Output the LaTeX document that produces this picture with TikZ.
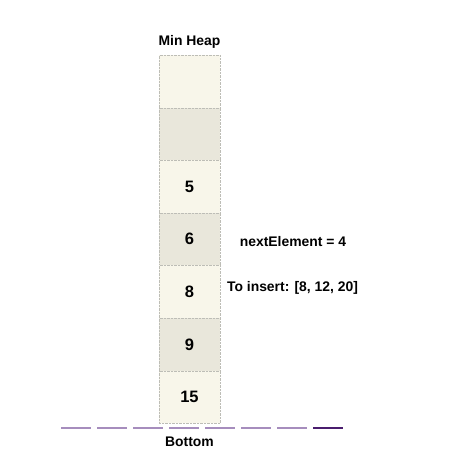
\documentclass[tikz,border=0pt]{standalone}
\usepackage{fontspec}
\setmainfont{Liberation Sans}
\usetikzlibrary{positioning}
\definecolor{slotlight}{HTML}{F8F6EA}
\definecolor{slotdark}{HTML}{E9E7DB}
\definecolor{slotedge}{HTML}{BDBDB6}
\definecolor{floorpale}{HTML}{A68DBD}
\definecolor{floordeep}{HTML}{4A1D6E}

\begin{document}
\begin{tikzpicture}[x=1pt,y=-1pt,
    slot/.style={rectangle,draw=slotedge,densely dotted,minimum width=61pt,minimum height=52.6pt,
                 inner sep=0pt,font=\fontsize{16.5}{20}\selectfont\bfseries},
    caption/.style={anchor=base,inner sep=0pt,font=\fontsize{13.9}{17}\selectfont\bfseries},
    floor/.style={line width=2.8pt}
]
\useasboundingbox (0,0) rectangle (455,456);

\node[caption] (title) at (189.5,45) {Min Heap};

\node[slot,fill=slotlight] (s1) at (189.5,81.5)  {};
\node[slot,fill=slotdark]  (s2) at (189.5,134)   {};
\node[slot,fill=slotlight] (s3) at (189.5,186.5) {5};
\node[slot,fill=slotdark]  (s4) at (189.5,239)   {6};
\node[slot,fill=slotlight] (s5) at (189.5,291.5) {8};
\node[slot,fill=slotdark]  (s6) at (189.5,344.5) {9};
\node[slot,fill=slotlight] (s7) at (189.5,397)   {15};

\node[caption] (next)   at (293,246) {nextElement = 4};
\node[caption] (insert) at (292.5,291) {To insert: [8, 12, 20]};

% floor under the heap
\coordinate (floorL) at (61,428);
\coordinate (floorM) at (313,428);
\coordinate (floorR) at (343,428);
\draw[floor,floorpale,dash pattern=on 30pt off 6pt] (floorL) -- (floorM);
\draw[floor,floordeep] (floorM) -- (floorR);

\node[caption] (bottom) at (189.5,446) {Bottom};
\end{tikzpicture}
\end{document}
